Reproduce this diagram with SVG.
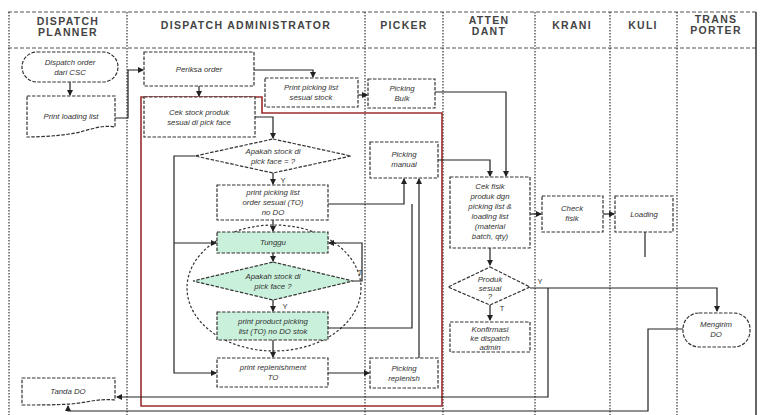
<svg xmlns="http://www.w3.org/2000/svg" width="762" height="415" viewBox="0 0 762 415">
  <defs>
    <marker id="arr" markerWidth="6" markerHeight="6" refX="5" refY="3" orient="auto" markerUnits="userSpaceOnUse">
      <path d="M0,0 L6,3 L0,6 Z" fill="#222"/>
    </marker>
    <style>
      .lane { fill: none; stroke: #444; stroke-width: 1.3; stroke-dasharray: 1.5 1.5; }
      .frame { fill: none; stroke: #555; stroke-width: 1.2; stroke-dasharray: 4 2; }
      .node { fill: #fff; stroke: #333; stroke-width: 1.2; stroke-dasharray: 3.5 1.5; }
      .green { fill: #c8f0da; }
      .ellipse { fill: none; stroke: #333; stroke-width: 1.2; stroke-dasharray: 2.5 2; }
      .group { fill: none; stroke: #9b2d2d; stroke-width: 1.6; }
      .edge { fill: none; stroke: #222; stroke-width: 1.2; }
      .hd { font-family: "Liberation Sans", Arial, sans-serif; font-size: 10.5px; font-weight: bold; fill: #444; text-anchor: middle; letter-spacing: 1.3px; }
      .t { font-family: "Liberation Sans", Arial, sans-serif; font-size: 7.8px; font-style: italic; fill: #333; text-anchor: middle; }
      .lbl { font-family: "Liberation Sans", Arial, sans-serif; font-size: 7.5px; fill: #333; text-anchor: middle; }
    </style>
  </defs>

  <rect width="762" height="415" fill="#fff"/>

  <!-- swimlane frame -->
  <g id="lanes">
    <line class="frame" x1="8" y1="12" x2="757" y2="12"/>
    <line class="frame" x1="8" y1="48" x2="757" y2="48"/>
    <line class="lane" x1="9" y1="12" x2="9" y2="415"/>
    <line x1="756" y1="12" x2="756" y2="415" stroke="#333" stroke-width="1.5"/>
    <line class="lane" x1="127" y1="12" x2="127" y2="415"/>
    <line class="lane" x1="365" y1="12" x2="365" y2="415"/>
    <line class="lane" x1="443" y1="12" x2="443" y2="415"/>
    <line class="lane" x1="535" y1="12" x2="535" y2="415"/>
    <line class="lane" x1="610" y1="12" x2="610" y2="415"/>
    <line class="lane" x1="677" y1="12" x2="677" y2="415"/>
    <text class="hd" x="68" y="25">DISPATCH</text>
    <text class="hd" x="68" y="36">PLANNER</text>
    <text class="hd" x="246" y="29">DISPATCH ADMINISTRATOR</text>
    <text class="hd" x="404" y="29">PICKER</text>
    <text class="hd" x="489" y="24">ATTEN</text>
    <text class="hd" x="489" y="35">DANT</text>
    <text class="hd" x="572" y="29">KRANI</text>
    <text class="hd" x="643" y="29">KULI</text>
    <text class="hd" x="716" y="23">TRANS</text>
    <text class="hd" x="716" y="34">PORTER</text>
  </g>

  <!-- administrator processing area -->
  <path class="group" d="M141,97 H262 V113 H442 V406 H141 Z"/>
  <ellipse class="ellipse" cx="274" cy="288" rx="87" ry="63"/>

  <!-- connectors -->
  <g id="connectors">
    <path class="edge" d="M70,82 V95" marker-end="url(#arr)"/>
    <path class="edge" d="M115,118 H128 V70 H143" marker-end="url(#arr)"/>
    <path class="edge" d="M199,86 V96" marker-end="url(#arr)"/>
    <path class="edge" d="M254,70 H313 V77" marker-end="url(#arr)"/>
    <path class="edge" d="M358,95 H367" marker-end="url(#arr)"/>
    <path class="edge" d="M255,117 H273 V138" marker-end="url(#arr)"/>
    <path class="edge" d="M273,173 V184" marker-end="url(#arr)"/>
    <path class="edge" d="M195,156 H174 V373 H216" marker-end="url(#arr)"/>
    <path class="edge" d="M174,243 H216" marker-end="url(#arr)"/>
    <path class="edge" d="M273,220 V231" marker-end="url(#arr)"/>
    <path class="edge" d="M273,253 V261" marker-end="url(#arr)"/>
    <path class="edge" d="M353,281 H362 V243 H329" marker-end="url(#arr)"/>
    <path class="edge" d="M273,300 V311" marker-end="url(#arr)"/>
    <path class="edge" d="M273,340 V357" marker-end="url(#arr)"/>
    <path class="edge" d="M328,204 H404 V179" marker-end="url(#arr)"/>
    <path class="edge" d="M328,328 H412 V204"/>
    <path class="edge" d="M419,358 V179" marker-end="url(#arr)" stroke-width="1.7"/>
    <path class="edge" d="M328,373 H369" marker-end="url(#arr)"/>
    <path class="edge" d="M435,92 H506 V176" marker-end="url(#arr)"/>
    <path class="edge" d="M438,160 H490 V176" marker-end="url(#arr)"/>
    <path class="edge" d="M530,214 H541" marker-end="url(#arr)"/>
    <path class="edge" d="M603,214 H614" marker-end="url(#arr)"/>
    <path class="edge" d="M645,232 V257"/>
    <path class="edge" d="M490,248 V265" marker-end="url(#arr)"/>
    <path class="edge" d="M490,305 V320" marker-end="url(#arr)"/>
    <path class="edge" d="M530,288 H717 V311" marker-end="url(#arr)"/>
    <path class="edge" d="M548,288 V397 H117" marker-end="url(#arr)"/>
    <path class="edge" d="M683,329 H648 V411 H68 V406" marker-end="url(#arr)"/>
    <text class="lbl" x="283" y="183">Y</text>
    <text class="lbl" x="360" y="275">T</text>
    <text class="lbl" x="285" y="309">Y</text>
    <text class="lbl" x="540" y="284">Y</text>
    <text class="lbl" x="502" y="311">T</text>
  </g>

  <!-- Dispatch planner -->
  <g id="dispatch-order">
    <rect class="node" x="22" y="52" width="96" height="30" rx="15"/>
    <text class="t" x="70" y="65">Dispatch order</text>
    <text class="t" x="70" y="75">dari CSC</text>
  </g>
  <g id="print-loading-list">
    <path class="node" d="M27,96 H115 V127 C100,124 85,132 70,134 C55,136 40,137 27,137 Z"/>
    <text class="t" x="71" y="119">Print loading list</text>
  </g>
  <g id="tanda-do">
    <path class="node" d="M22,378 H115 V400 C100,398 85,403 70,404 C55,405 40,405 22,405 Z"/>
    <text class="t" x="68" y="394">Tanda DO</text>
  </g>

  <!-- Dispatch administrator -->
  <g id="periksa-order">
    <rect class="node" x="144" y="52" width="110" height="34"/>
    <text class="t" x="199" y="72">Periksa order</text>
  </g>
  <g id="print-picking-stock">
    <rect class="node" x="265" y="78" width="93" height="29"/>
    <text class="t" x="311" y="90">Print picking list</text>
    <text class="t" x="311" y="100">sesuai stock</text>
  </g>
  <g id="cek-stock">
    <rect class="node" x="144" y="97" width="111" height="40"/>
    <text class="t" x="199" y="115">Cek stock produk</text>
    <text class="t" x="199" y="125">sesuai di pick face</text>
  </g>
  <g id="cek-pick-face">
    <polygon class="node" points="273,139 351,156 273,173 195,156"/>
    <text class="t" x="273" y="154">Apakah stock di</text>
    <text class="t" x="273" y="164">pick face = ?</text>
  </g>
  <g id="print-picking-order">
    <rect class="node" x="217" y="185" width="111" height="35"/>
    <text class="t" x="273" y="195">print picking list</text>
    <text class="t" x="273" y="205">order sesuai (TO)</text>
    <text class="t" x="273" y="215">no DO</text>
  </g>
  <g id="tunggu">
    <rect class="node green" x="217" y="232" width="111" height="21"/>
    <text class="t" x="273" y="245">Tunggu</text>
  </g>
  <g id="cek-pick-face-2">
    <polygon class="node green" points="273,262 353,281 273,300 193,281"/>
    <text class="t" x="273" y="279">Apakah stock di</text>
    <text class="t" x="273" y="289">pick face ?</text>
  </g>
  <g id="print-product-picking">
    <rect class="node green" x="217" y="312" width="111" height="28"/>
    <text class="t" x="273" y="324">print product picking</text>
    <text class="t" x="273" y="334">list (TO) no DO stok</text>
  </g>
  <g id="print-replenishment">
    <rect class="node" x="217" y="358" width="111" height="29"/>
    <text class="t" x="273" y="370">print replenishment</text>
    <text class="t" x="273" y="380">TO</text>
  </g>

  <!-- Picker -->
  <g id="picking-bulk">
    <rect class="node" x="368" y="79" width="67" height="29"/>
    <text class="t" x="402" y="91">Picking</text>
    <text class="t" x="402" y="101">Bulk</text>
  </g>
  <g id="picking-manual">
    <rect class="node" x="370" y="142" width="68" height="36"/>
    <text class="t" x="404" y="157">Picking</text>
    <text class="t" x="404" y="167">manual</text>
  </g>
  <g id="picking-replenish">
    <rect class="node" x="370" y="358" width="68" height="30"/>
    <text class="t" x="404" y="371">Picking</text>
    <text class="t" x="404" y="381">replenish</text>
  </g>

  <!-- Attendant -->
  <g id="cek-fisik">
    <rect class="node" x="450" y="177" width="80" height="71"/>
    <text class="t" x="490" y="189">Cek fisik</text>
    <text class="t" x="490" y="199">produk dgn</text>
    <text class="t" x="490" y="209">picking list &amp;</text>
    <text class="t" x="490" y="219">loading list</text>
    <text class="t" x="490" y="229">(material</text>
    <text class="t" x="490" y="239">batch, qty)</text>
  </g>
  <g id="produk-sesuai">
    <polygon class="node" points="490,267 530,287 490,305 448,287"/>
    <text class="t" x="490" y="282">Produk</text>
    <text class="t" x="490" y="291">sesuai</text>
    <text class="t" x="490" y="299">?</text>
  </g>
  <g id="konfirmasi">
    <rect class="node" x="450" y="322" width="80" height="30"/>
    <text class="t" x="490" y="332">Konfirmasi</text>
    <text class="t" x="490" y="341">ke dispatch</text>
    <text class="t" x="490" y="350">admin</text>
  </g>

  <!-- Krani / Kuli / Transporter -->
  <g id="check-fisik">
    <rect class="node" x="542" y="196" width="61" height="36"/>
    <text class="t" x="572" y="211">Check</text>
    <text class="t" x="572" y="221">fisik</text>
  </g>
  <g id="loading">
    <rect class="node" x="615" y="196" width="58" height="36"/>
    <text class="t" x="644" y="217">Loading</text>
  </g>
  <g id="mengirim-do">
    <rect class="node" x="683" y="313" width="67" height="34" rx="16"/>
    <text class="t" x="716" y="327">Mengirim</text>
    <text class="t" x="716" y="337">DO</text>
  </g>
</svg>
